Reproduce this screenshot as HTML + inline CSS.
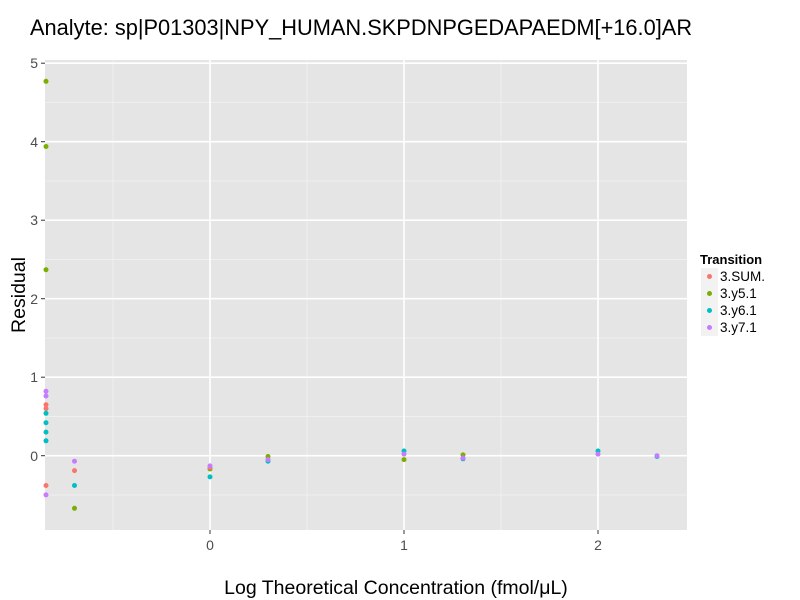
<!DOCTYPE html>
<html><head><meta charset="utf-8"><style>body{margin:0;background:#fff}svg{display:block;font-family:"Liberation Sans",sans-serif}</style></head><body>
<svg width="800" height="600" viewBox="0 0 800 600">
<rect width="800" height="600" fill="#fff"/>
<text x="30" y="35" font-size="21.8" fill="#000">Analyte: sp|P01303|NPY_HUMAN.SKPDNPGEDAPAEDM[+16.0]AR</text>
<rect x="45" y="60" width="642" height="470" fill="#e5e5e5"/>
<g stroke="#f2f2f2" stroke-width="0.8">
<line x1="45" x2="687" y1="495" y2="495"/><line x1="45" x2="687" y1="416.5" y2="416.5"/><line x1="45" x2="687" y1="338" y2="338"/><line x1="45" x2="687" y1="259.5" y2="259.5"/><line x1="45" x2="687" y1="181" y2="181"/><line x1="45" x2="687" y1="102.5" y2="102.5"/>
<line x1="113" x2="113" y1="60" y2="530"/><line x1="307" x2="307" y1="60" y2="530"/><line x1="501" x2="501" y1="60" y2="530"/>
</g>
<g stroke="#fff" stroke-width="1.6">
<line x1="45" x2="687" y1="455.7" y2="455.7"/><line x1="45" x2="687" y1="377.2" y2="377.2"/><line x1="45" x2="687" y1="298.7" y2="298.7"/><line x1="45" x2="687" y1="220.2" y2="220.2"/><line x1="45" x2="687" y1="141.7" y2="141.7"/><line x1="45" x2="687" y1="63.2" y2="63.2"/>
<line x1="210" x2="210" y1="60" y2="530"/><line x1="404" x2="404" y1="60" y2="530"/><line x1="598" x2="598" y1="60" y2="530"/>
</g>
<g stroke="#333" stroke-width="1">
<line x1="41" x2="45" y1="455.7" y2="455.7"/><line x1="41" x2="45" y1="377.2" y2="377.2"/><line x1="41" x2="45" y1="298.7" y2="298.7"/><line x1="41" x2="45" y1="220.2" y2="220.2"/><line x1="41" x2="45" y1="141.7" y2="141.7"/><line x1="41" x2="45" y1="63.2" y2="63.2"/>
<line x1="210" x2="210" y1="530" y2="534"/><line x1="404" x2="404" y1="530" y2="534"/><line x1="598" x2="598" y1="530" y2="534"/>
</g>
<g font-size="14" fill="#4d4d4d" text-anchor="end">
<text x="38" y="461">0</text><text x="38" y="382">1</text><text x="38" y="304">2</text><text x="38" y="225">3</text><text x="38" y="147">4</text><text x="38" y="68">5</text>
</g>
<g font-size="14" fill="#4d4d4d" text-anchor="middle">
<text x="210" y="550">0</text><text x="404" y="550">1</text><text x="598" y="550">2</text>
</g>
<text x="396" y="594" font-size="19.5" text-anchor="middle">Log Theoretical Concentration (fmol/μL)</text>
<text transform="translate(25,295) rotate(-90)" font-size="19.5" text-anchor="middle">Residual</text>
<g fill="#7cae00">
<circle cx="46" cy="81.3" r="2.5"/><circle cx="46" cy="146.5" r="2.5"/><circle cx="46" cy="269.7" r="2.5"/>
<circle cx="74.5" cy="508.3" r="2.5"/><circle cx="210" cy="469" r="2.5"/><circle cx="268" cy="456.5" r="2.5"/><circle cx="404" cy="459.6" r="2.5"/><circle cx="463" cy="454.9" r="2.5"/>
</g>
<g fill="#f8766d">
<circle cx="46" cy="404.7" r="2.5"/><circle cx="46" cy="408.6" r="2.5"/><circle cx="46" cy="485.5" r="2.5"/><circle cx="74.5" cy="470.6" r="2.5"/><circle cx="210" cy="467.5" r="2.5"/>
</g>
<g fill="#00bfc4">
<circle cx="46" cy="413.3" r="2.5"/><circle cx="46" cy="422.7" r="2.5"/><circle cx="46" cy="432.1" r="2.5"/><circle cx="46" cy="440.8" r="2.5"/>
<circle cx="74.5" cy="485.5" r="2.5"/><circle cx="210" cy="476.9" r="2.5"/><circle cx="268" cy="461.2" r="2.5"/><circle cx="404" cy="451" r="2.5"/><circle cx="463" cy="458.8" r="2.5"/><circle cx="598" cy="451" r="2.5"/><circle cx="657" cy="456.5" r="2.5"/>
</g>
<g fill="#c77cff">
<circle cx="46" cy="391.3" r="2.5"/><circle cx="46" cy="396" r="2.5"/><circle cx="46" cy="494.9" r="2.5"/>
<circle cx="74.5" cy="461.2" r="2.5"/><circle cx="210" cy="465.9" r="2.5"/><circle cx="268" cy="459.6" r="2.5"/><circle cx="404" cy="454.1" r="2.5"/><circle cx="463" cy="458" r="2.5"/><circle cx="598" cy="454.1" r="2.5"/><circle cx="657" cy="455.7" r="2.5"/>
</g>
<text x="700" y="264" font-size="13" font-weight="bold">Transition</text>
<g fill="#f2f2f2"><rect x="701" y="268" width="17" height="17"/><rect x="701" y="285" width="17" height="17"/><rect x="701" y="302" width="17" height="17"/><rect x="701" y="319" width="17" height="17"/></g>
<circle cx="709.5" cy="276.5" r="2.5" fill="#f8766d"/><circle cx="709.5" cy="293.5" r="2.5" fill="#7cae00"/><circle cx="709.5" cy="310.5" r="2.5" fill="#00bfc4"/><circle cx="709.5" cy="327.5" r="2.5" fill="#c77cff"/>
<g font-size="13.5"><text x="720" y="281">3.SUM.</text><text x="720" y="298">3.y5.1</text><text x="720" y="315">3.y6.1</text><text x="720" y="332">3.y7.1</text></g>
</svg>
</body></html>
